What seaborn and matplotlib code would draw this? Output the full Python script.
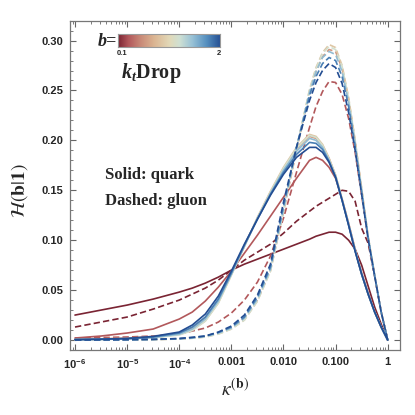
import numpy as np
import pandas as pd
import matplotlib
matplotlib.use("Agg")
import matplotlib.pyplot as plt
import matplotlib.ticker as mticker
from matplotlib.colors import LinearSegmentedColormap
import seaborn as sns

# x grid (log10 of kappa)
log_kappa = [-6, -5.5, -5, -4.5, -4, -3.75, -3.5, -3.25, -3, -2.75, -2.5, -2.25, -2,
             -1.75, -1.5, -1.375, -1.25, -1.125, -1, -0.875, -0.75, -0.625, -0.5,
             -0.375, -0.25, -0.125, 0]

b_values = [0.1, 0.3, 0.6, 0.9, 1.2, 1.5, 1.8, 2.0]

# quark (solid)
q01 = [0.025, 0.030, 0.035, 0.041, 0.048, 0.052, 0.057, 0.063, 0.070, 0.076, 0.081, 0.086, 0.091, 0.096, 0.101, 0.104, 0.106, 0.108, 0.108, 0.106, 0.100, 0.091, 0.075, 0.054, 0.033, 0.016, 0.0]
q03 = [0.002, 0.004, 0.007, 0.011, 0.021, 0.028, 0.039, 0.053, 0.069, 0.087, 0.105, 0.124, 0.143, 0.162, 0.180, 0.183, 0.180, 0.173, 0.162, 0.141, 0.117, 0.091, 0.067, 0.047, 0.029, 0.013, 0.0]
q06 = [0.0008, 0.0012, 0.002, 0.0035, 0.007, 0.012, 0.022, 0.040, 0.066, 0.094, 0.122, 0.148, 0.171, 0.191, 0.204, 0.202, 0.195, 0.182, 0.165, 0.141, 0.116, 0.090, 0.066, 0.046, 0.028, 0.013, 0.0]
q09 = [0.0004, 0.0007, 0.0012, 0.0025, 0.0055, 0.010, 0.019, 0.037, 0.065, 0.094, 0.123, 0.149, 0.173, 0.193, 0.206, 0.204, 0.196, 0.182, 0.165, 0.141, 0.116, 0.090, 0.066, 0.046, 0.028, 0.013, 0.0]
q12 = [0.0003, 0.0006, 0.0010, 0.0022, 0.005, 0.0095, 0.019, 0.037, 0.065, 0.094, 0.122, 0.148, 0.172, 0.192, 0.205, 0.203, 0.195, 0.181, 0.165, 0.141, 0.116, 0.090, 0.066, 0.046, 0.028, 0.013, 0.0]
q15 = [0.0003, 0.0006, 0.0011, 0.0025, 0.0058, 0.011, 0.021, 0.039, 0.066, 0.094, 0.122, 0.147, 0.170, 0.189, 0.202, 0.200, 0.193, 0.180, 0.164, 0.140, 0.116, 0.090, 0.066, 0.046, 0.028, 0.013, 0.0]
q18 = [0.0004, 0.0007, 0.0013, 0.003, 0.007, 0.013, 0.023, 0.041, 0.067, 0.095, 0.121, 0.146, 0.168, 0.186, 0.198, 0.197, 0.191, 0.179, 0.163, 0.140, 0.115, 0.089, 0.066, 0.046, 0.028, 0.013, 0.0]
q20 = [0.0005, 0.0009, 0.0016, 0.0036, 0.008, 0.015, 0.026, 0.044, 0.069, 0.096, 0.121, 0.145, 0.166, 0.183, 0.193, 0.193, 0.188, 0.178, 0.163, 0.140, 0.115, 0.089, 0.066, 0.046, 0.028, 0.013, 0.0]

# gluon (dashed)
g01 = [0.013, 0.018, 0.023, 0.031, 0.040, 0.046, 0.052, 0.060, 0.070, 0.080, 0.088, 0.096, 0.107, 0.119, 0.129, 0.134, 0.138, 0.142, 0.146, 0.150, 0.149, 0.139, 0.112, 0.097, 0.064, 0.028, 0.0]
g03 = [0.002, 0.0025, 0.003, 0.004, 0.006, 0.009, 0.012, 0.018, 0.027, 0.040, 0.058, 0.084, 0.122, 0.168, 0.213, 0.234, 0.249, 0.259, 0.258, 0.246, 0.222, 0.188, 0.145, 0.101, 0.064, 0.028, 0.0]
g06 = [0.0001, 0.0002, 0.0003, 0.0005, 0.0012, 0.002, 0.0035, 0.007, 0.012, 0.022, 0.040, 0.070, 0.128, 0.190, 0.247, 0.269, 0.284, 0.291, 0.289, 0.272, 0.241, 0.199, 0.151, 0.103, 0.065, 0.028, 0.0]
g09 = [0.0, 0.0001, 0.0002, 0.0004, 0.001, 0.0018, 0.003, 0.006, 0.011, 0.020, 0.039, 0.069, 0.129, 0.192, 0.251, 0.273, 0.288, 0.296, 0.293, 0.275, 0.243, 0.200, 0.152, 0.104, 0.065, 0.028, 0.0]
g12 = [0.0, 0.0001, 0.0002, 0.0004, 0.001, 0.0018, 0.003, 0.006, 0.011, 0.020, 0.039, 0.069, 0.129, 0.192, 0.250, 0.272, 0.287, 0.294, 0.291, 0.274, 0.242, 0.200, 0.152, 0.104, 0.065, 0.028, 0.0]
g15 = [0.0, 0.0001, 0.0002, 0.0005, 0.0012, 0.002, 0.0035, 0.007, 0.012, 0.022, 0.041, 0.071, 0.131, 0.193, 0.248, 0.269, 0.283, 0.289, 0.286, 0.269, 0.238, 0.197, 0.150, 0.103, 0.065, 0.028, 0.0]
g18 = [0.0, 0.0001, 0.0003, 0.0006, 0.0014, 0.0025, 0.004, 0.0075, 0.013, 0.023, 0.043, 0.073, 0.134, 0.193, 0.245, 0.264, 0.277, 0.283, 0.280, 0.264, 0.234, 0.194, 0.148, 0.102, 0.064, 0.028, 0.0]
g20 = [0.0001, 0.0002, 0.0004, 0.0007, 0.0015, 0.0027, 0.004, 0.008, 0.014, 0.025, 0.045, 0.076, 0.138, 0.193, 0.240, 0.258, 0.270, 0.277, 0.273, 0.257, 0.228, 0.190, 0.146, 0.101, 0.064, 0.028, 0.0]

quark = [q01, q03, q06, q09, q12, q15, q18, q20]
gluon = [g01, g03, g06, g09, g12, g15, g18, g20]

x_ticks = [1e-6, 1e-5, 1e-4, 1e-3, 1e-2, 1e-1, 1]
x_ticklabels = [r"$\mathbf{10^{-6}}$", r"$\mathbf{10^{-5}}$", r"$\mathbf{10^{-4}}$",
                "0.001", "0.010", "0.100", "1"]

# build long table
rows = []
for b, qv, gv in zip(b_values, quark, gluon):
    for lk, yq, yg in zip(log_kappa, qv, gv):
        rows.append({"kappa": 10.0 ** lk, "H": yq, "b": b, "parton": "quark"})
        rows.append({"kappa": 10.0 ** lk, "H": yg, "b": b, "parton": "gluon"})
df = pd.DataFrame(rows)

# colour scale similar to RedBlueTones
cmap = LinearSegmentedColormap.from_list("redblue", [
    (0.0, "#7a2433"), (0.1, "#b2575b"), (0.22, "#c98a78"), (0.35, "#dbb592"),
    (0.5, "#e2d9b8"), (0.6, "#cfe0d3"), (0.72, "#99c2d6"), (0.86, "#5690c0"),
    (1.0, "#234d92")])
palette = {b: cmap((b - 0.1) / 1.9) for b in b_values}

sns.set_style("ticks")
plt.rcParams["mathtext.fontset"] = "custom"
plt.rcParams["mathtext.bf"] = "Liberation Sans:bold"
plt.rcParams["mathtext.rm"] = "Liberation Serif:bold"
plt.rcParams["mathtext.it"] = "Liberation Serif:italic:bold"

fig = plt.figure(figsize=(4.15, 4.15), dpi=100, facecolor="white")
ax = fig.add_axes([70 / 415, 1 - 350 / 415, 330 / 415, 329 / 415])
ax.set_facecolor("white")

sns.lineplot(data=df, x="kappa", y="H", hue="b", style="parton", palette=palette,
             dashes={"quark": "", "gluon": (3.8, 1.9)}, style_order=["quark", "gluon"],
             estimator=None, sort=False, linewidth=1.2, legend=False, ax=ax)

ax.set_xscale("log")
ax.set_xlim(10 ** -6.096, 10 ** 0.236)
ax.set_ylim(-0.010, 0.3196)
ax.set_xticks(x_ticks)
ax.set_xticklabels(x_ticklabels)
ax.xaxis.set_minor_locator(mticker.LogLocator(base=10, subs=np.arange(2, 10)))
ax.xaxis.set_minor_formatter(mticker.NullFormatter())
ax.yaxis.set_major_locator(mticker.MultipleLocator(0.05))
ax.yaxis.set_major_formatter(mticker.FormatStrFormatter("%.2f"))
ax.yaxis.set_minor_locator(mticker.MultipleLocator(0.01))
ax.tick_params(which="both", direction="in", top=True, right=True, color="#666666")
ax.tick_params(which="major", length=4, width=0.8, labelsize=8, pad=5)
ax.tick_params(which="minor", length=2, width=0.6)
for lab in ax.get_xticklabels() + ax.get_yticklabels():
    lab.set_fontfamily("Liberation Sans")
    lab.set_fontweight("bold")
for sp in ax.spines.values():
    sp.set_color("#777777")
    sp.set_linewidth(0.9)

ax.set_xlabel(r"$\kappa^{(\mathbf{b})}$", fontsize=14, math_fontfamily="stix", labelpad=5)
ax.set_ylabel(r"$\mathcal{H}(\mathbf{b}|\mathbf{1})$", fontsize=14, math_fontfamily="stix",
              labelpad=3)
ax.yaxis.set_label_coords(-0.12, 0.485)

ax.text(0.105, 0.532, "Solid: quark", transform=ax.transAxes, fontsize=12, va="center",
        fontfamily="Liberation Serif", fontweight="bold")
ax.text(0.105, 0.453, "Dashed: gluon", transform=ax.transAxes, fontsize=12, va="center",
        fontfamily="Liberation Serif", fontweight="bold")

# colour bar
cax = fig.add_axes([118 / 415, 1 - 47.5 / 415, 102 / 415, 13 / 415])
cax.imshow(np.linspace(0, 1, 256)[None, :], aspect="auto", cmap=cmap)
cax.set_xticks([])
cax.set_yticks([])
for sp in cax.spines.values():
    sp.set_color("#999999")
    sp.set_linewidth(0.8)
fig.text(117 / 415, 1 - 41.5 / 415, "b=", ha="right", va="center", fontsize=13,
         fontfamily="Liberation Serif", fontweight="bold", style="italic")
fig.text(122 / 415, 1 - 53.5 / 415, "0.1", ha="center", va="center", fontsize=5.5,
         fontfamily="Liberation Sans", fontweight="bold")
fig.text(219 / 415, 1 - 53.5 / 415, "2", ha="center", va="center", fontsize=5.5,
         fontfamily="Liberation Sans", fontweight="bold")
fig.text(121 / 415, 1 - 73 / 415, r"$k_t$Drop", ha="left", va="center", fontsize=14.5,
         fontfamily="Liberation Serif", fontweight="bold")

fig.savefig("out.png", dpi=100, facecolor="white")
